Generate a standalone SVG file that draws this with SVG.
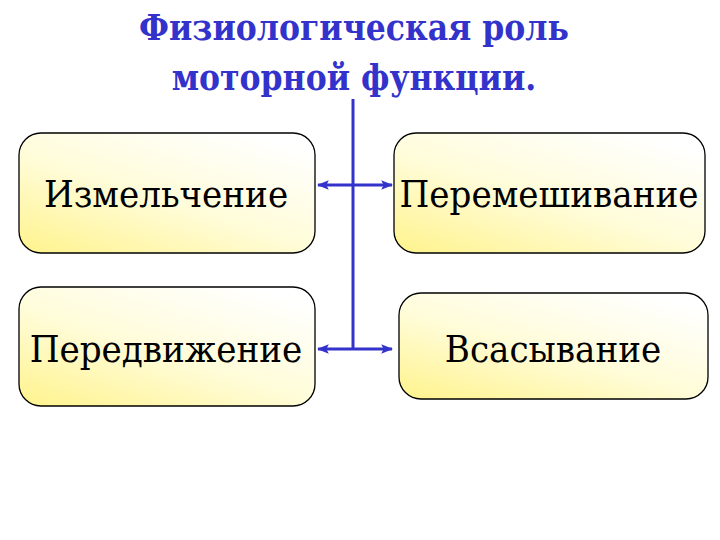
<svg xmlns="http://www.w3.org/2000/svg" width="720" height="540" viewBox="0 0 720 540">
<defs>
<linearGradient id="g" x1="0" y1="1" x2="0.8" y2="0">
<stop offset="0" stop-color="#fff38c"/>
<stop offset="0.5" stop-color="#fffcd8"/>
<stop offset="1" stop-color="#ffffff"/>
</linearGradient>
<marker id="ah" viewBox="0 0 10 10" refX="9" refY="5" markerWidth="4" markerHeight="4" orient="auto-start-reverse" markerUnits="strokeWidth">
<path d="M0,1 L10,5 L0,9 L2,5 Z" fill="#3333cc"/>
</marker>
</defs>
<style>
.box{fill:url(#g);stroke:#000;stroke-width:1.3}
.lbl{font-family:"DejaVu Serif Condensed","DejaVu Serif",serif;font-stretch:condensed;font-size:38px;fill:#000;text-anchor:middle}
.title{font-family:"DejaVu Serif Condensed","DejaVu Serif",serif;font-stretch:condensed;font-size:35px;font-weight:bold;fill:#3333cc;text-anchor:middle}
.con{stroke:#3333cc;stroke-width:3;fill:none}
</style>
<rect width="720" height="540" fill="#fff"/>
<g id="title">
<text class="title" x="354" y="40">Физиологическая роль</text>
<text class="title" x="354" y="90">моторной функции.</text>
</g>
<g id="connectors">
<line class="con" x1="353" y1="99" x2="353" y2="349"/>
<line class="con" x1="318" y1="185" x2="392" y2="185" marker-start="url(#ah)" marker-end="url(#ah)"/>
<line class="con" x1="318" y1="349" x2="392" y2="349" marker-start="url(#ah)" marker-end="url(#ah)"/>
</g>
<g id="n1">
<rect class="box" x="19" y="133" width="296" height="120" rx="22"/>
<text class="lbl" x="166" y="207">Измельчение</text>
</g>
<g id="n2">
<rect class="box" x="394" y="133" width="311" height="120" rx="22"/>
<text class="lbl" x="549" y="207">Перемешивание</text>
</g>
<g id="n3">
<rect class="box" x="19" y="287" width="296" height="119" rx="22"/>
<text class="lbl" x="166" y="362">Передвижение</text>
</g>
<g id="n4">
<rect class="box" x="399" y="293" width="309" height="106" rx="22"/>
<text class="lbl" x="553" y="362">Всасывание</text>
</g>
</svg>
